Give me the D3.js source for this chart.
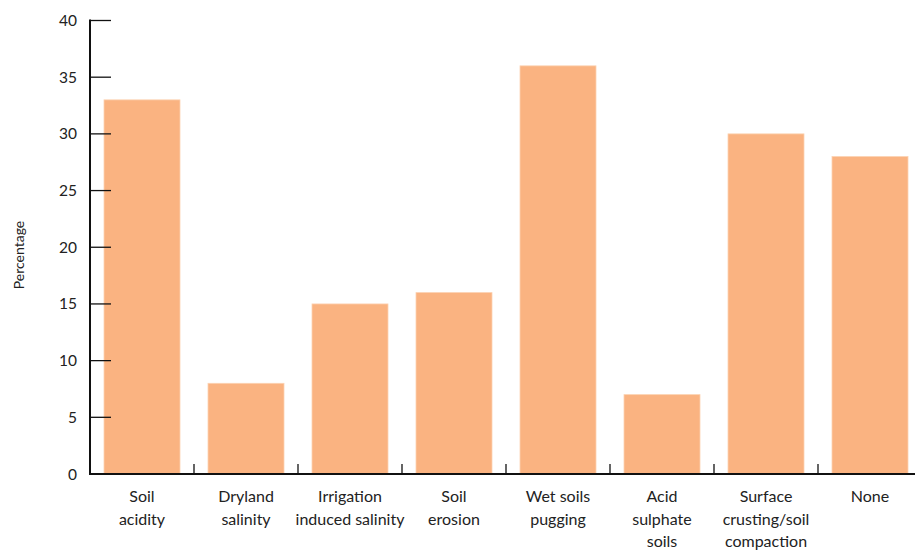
<!DOCTYPE html>
<html><head><meta charset="utf-8">
<script src="https://cdn.jsdelivr.net/npm/d3@7"></script>
<style>body{margin:0;background:#fff}svg{display:block}text{font-family:Lato,"Open Sans",sans-serif;fill:#222}</style>
</head><body><svg id="c" width="915" height="555"></svg>
<script>
const categories = [["Soil","acidity"],["Dryland","salinity"],["Irrigation","induced salinity"],["Soil","erosion"],["Wet soils","pugging"],["Acid","sulphate","soils"],["Surface","crusting/soil","compaction"],["None"]];
const values = [33, 8, 15, 16, 36, 7, 30, 28];
const yTicks = [0,5,10,15,20,25,30,35,40];

const svg = d3.select("#c");
const x = d3.scaleBand().domain(d3.range(categories.length)).range([90, 922]).paddingInner(28/104).paddingOuter(14/104);
const y = d3.scaleLinear().domain([0,40]).range([474, 20.5]);

svg.selectAll("rect.bar").data(values).join("rect")
  .attr("x", (d,i)=>x(i)).attr("y", d=>y(d))
  .attr("width", x.bandwidth()).attr("height", d=>y(0)-y(d))
  .attr("fill", "#fab381").attr("stroke","#fcd2b2").attr("stroke-width",0.8);

// y axis
const ya = svg.append("g");
ya.append("line").attr("x1",90).attr("x2",90).attr("y1",y(40)-1).attr("y2",y(0)+1).attr("stroke","#111").attr("stroke-width",2);
ya.selectAll("line.t").data(yTicks).join("line").attr("class","t")
  .attr("x1",90).attr("x2",111).attr("y1",d=>y(d)).attr("y2",d=>y(d)).attr("stroke","#111").attr("stroke-width",1.3);
ya.selectAll("text").data(yTicks).join("text")
  .attr("x",77).attr("y",d=>y(d)+5.5).attr("text-anchor","end").attr("font-size",15.5).text(d=>d);

// x axis
svg.append("line").attr("x1",89).attr("x2",915).attr("y1",y(0)).attr("y2",y(0)).attr("stroke","#111").attr("stroke-width",2);
const bounds = d3.range(1, categories.length+1).map(i=>x(i-1)+x.bandwidth()+x.step()*x.paddingInner()/2);
svg.selectAll("line.xt").data(bounds).join("line").attr("class","xt")
  .attr("x1",d=>d).attr("x2",d=>d).attr("y1",y(0)).attr("y2",y(0)-10).attr("stroke","#111").attr("stroke-width",1.3);

const lab = svg.selectAll("text.cat").data(categories).join("text").attr("class","cat")
  .attr("text-anchor","middle").attr("font-size",16);
lab.each(function(lines,i){
  d3.select(this).selectAll("tspan").data(lines).join("tspan")
    .attr("x", x(i)+x.bandwidth()/2).attr("y",(d,j)=>502+j*22.5).text(d=>d);
});

svg.append("text").attr("transform","translate(24,255) rotate(-90)").attr("text-anchor","middle").attr("font-size",14).text("Percentage");
</script></body></html>
